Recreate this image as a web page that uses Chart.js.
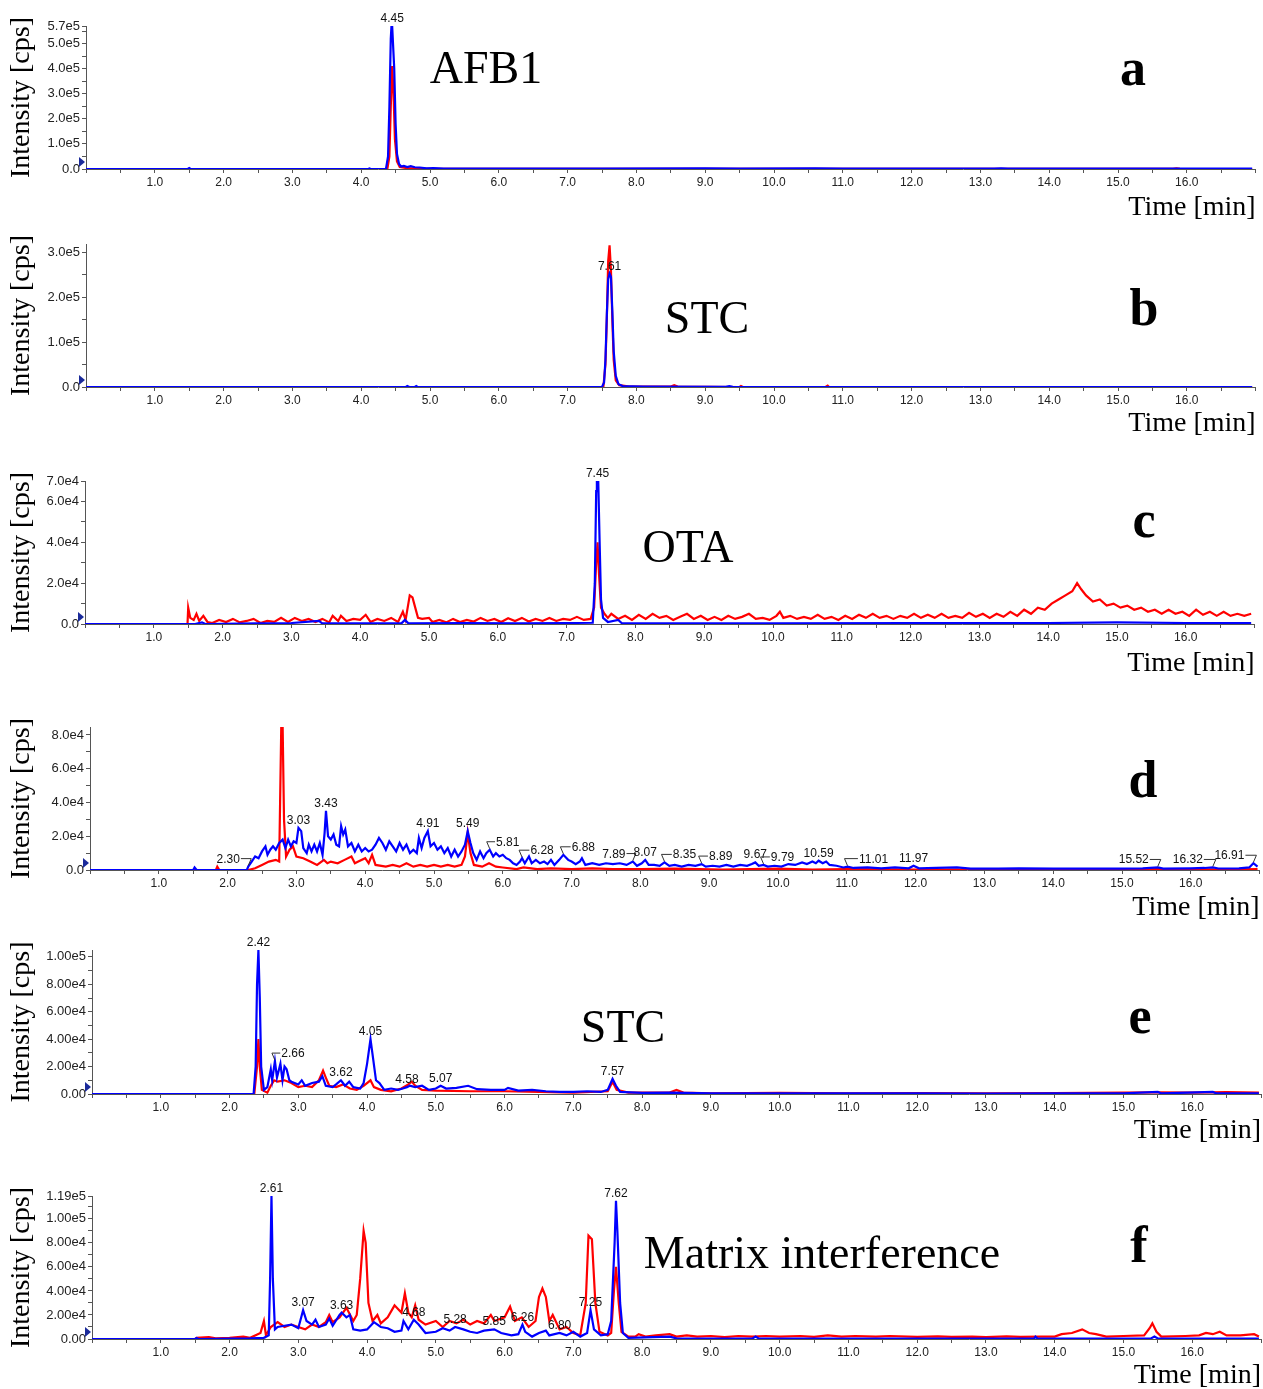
<!DOCTYPE html>
<html>
<head>
<meta charset="utf-8">
<script src="https://cdn.jsdelivr.net/npm/chart.js@4.4.0/dist/chart.umd.min.js"></script>
<style>
  body { margin:0; background:#fff; width:1263px; height:1389px; position:relative; overflow:hidden; }
  canvas { position:absolute; left:0; }
</style>
</head>
<body>
<script>
// --- panel a : AFB1 ---
const aBlue = [[0,0],[1.48,0],[1.5,4e3],[1.52,0],[4.1,0],[4.12,2e3],[4.14,0],[4.36,0],[4.39,5e4],[4.41,2.5e5],[4.43,5.2e5],[4.44,5.7e5],[4.45,5.7e5],[4.46,5.7e5],[4.48,4.0e5],[4.5,1.8e5],[4.52,6e4],[4.55,2e4],[4.58,1e4],[4.62,1.2e4],[4.67,8e3],[4.72,1.1e4],[4.78,7e3],[4.85,6e3],[4.95,3e3],[5.05,4e3],[5.2,2e3],[6,1.5e3],[7.5,1.5e3],[9,3e3],[9.5,1.5e3],[10.6,3e3],[11,1.5e3],[13.2,1.5e3],[13.3,3e3],[13.4,1.5e3],[16.95,1.5e3]];
const aRed = [[0,0],[4.38,0],[4.41,5e4],[4.43,2.5e5],[4.45,4.1e5],[4.47,3e5],[4.49,1.2e5],[4.52,3e4],[4.56,8e3],[4.65,4e3],[5,1e3],[15.8,500],[15.85,3e3],[15.9,500],[16.95,0]];
const aPeaks = [4.45];
const aYVals = [0,1e5,2e5,3e5,4e5,5e5,5.7e5];
const aYText = ['0.0','1.0e5','2.0e5','3.0e5','4.0e5','5.0e5','5.7e5'];

// --- panel b : STC ---
const bBlue = [[0,0],[4.65,0],[4.67,2e3],[4.7,0],[4.78,0],[4.8,2e3],[4.82,0],[7.5,0],[7.53,1e4],[7.55,6e4],[7.57,1.6e5],[7.59,2.4e5],[7.61,2.52e5],[7.63,2.45e5],[7.65,1.7e5],[7.67,8e4],[7.7,2.5e4],[7.74,6e3],[7.8,2e3],[8.1,1e3],[9.3,500],[9.35,2e3],[9.4,500],[16.95,0]];
const bRed = [[0,0],[7.52,0],[7.55,5e4],[7.57,1.5e5],[7.59,2.8e5],[7.61,3.15e5],[7.63,2.6e5],[7.65,1.5e5],[7.67,6e4],[7.7,1.5e4],[7.75,4e3],[7.9,1e3],[8.5,1e3],[8.55,4e3],[8.6,1e3],[9.5,0],[9.52,2e3],[9.55,0],[10.75,0],[10.78,3e3],[10.8,0],[16.95,0]];
const bPeaks = [7.61];
const bYVals = [0,1e5,2e5,3e5];
const bYText = ['0.0','1.0e5','2.0e5','3.0e5'];

// --- panel c : OTA ---
const cBlue = [[0,0],[1.6,0],[1.7,800],[1.75,0],[2.5,300],[3,500],[3.4,1.5e3],[3.45,300],[4.6,300],[4.65,2e3],[4.7,300],[5.5,500],[6.3,300],[7.0,500],[7.38,600],[7.41,2e4],[7.43,6.5e4],[7.44,7e4],[7.45,7e4],[7.46,7e4],[7.48,4e4],[7.5,1.2e4],[7.53,3e3],[7.6,1e3],[7.75,2e3],[7.8,500],[8.5,300],[10,300],[12,400],[14,500],[15,800],[16,500],[16.95,500]];
const cRed = [[0,0],[1.49,0],[1.5,8e3],[1.53,3e3],[1.58,2e3],[1.62,5e3],[1.66,1.5e3],[1.72,4e3],[1.78,1e3],[1.85,500],[1.95,2e3],[2.05,1e3],[2.15,2.5e3],[2.25,800],[2.35,1.5e3],[2.45,2.5e3],[2.55,500],[2.65,1.5e3],[2.75,1e3],[2.85,3e3],[2.95,1e3],[3.05,3e3],[3.15,1.5e3],[3.25,2.5e3],[3.35,1e3],[3.45,2.5e3],[3.55,800],[3.6,4e3],[3.68,1.5e3],[3.72,4e3],[3.8,1.5e3],[3.9,2.5e3],[4.0,2e3],[4.08,4.5e3],[4.15,1e3],[4.25,2.5e3],[4.35,1.5e3],[4.45,3e3],[4.55,1e3],[4.62,6e3],[4.66,2e3],[4.72,1.4e4],[4.76,1.3e4],[4.8,8e3],[4.84,3e3],[4.9,2.5e3],[5.0,3e3],[5.05,1e3],[5.15,2e3],[5.25,800],[5.35,2.5e3],[5.45,1e3],[5.55,2e3],[5.65,1.2e3],[5.75,3e3],[5.85,1.5e3],[5.95,2.5e3],[6.05,1e3],[6.15,2.8e3],[6.25,1.5e3],[6.35,3e3],[6.45,1.2e3],[6.55,2.5e3],[6.65,1.5e3],[6.75,3e3],[6.85,1.5e3],[6.95,2.5e3],[7.05,2e3],[7.15,3.5e3],[7.25,2e3],[7.35,2.5e3],[7.4,8e3],[7.43,3e4],[7.45,4.0e4],[7.47,2.5e4],[7.5,8e3],[7.55,5e3],[7.6,3e3],[7.65,5e3],[7.75,2.5e3],[7.85,4e3],[7.95,2e3],[8.05,4.5e3],[8.15,2.5e3],[8.25,5e3],[8.35,3e3],[8.45,4e3],[8.55,2e3],[8.65,3.5e3],[8.75,5e3],[8.85,2.5e3],[8.95,4e3],[9.05,2e3],[9.15,3.5e3],[9.25,2e3],[9.35,4e3],[9.45,2.5e3],[9.55,3.5e3],[9.65,5e3],[9.75,2.5e3],[9.85,3e3],[9.95,2e3],[10.05,4e3],[10.1,6e3],[10.15,3e3],[10.25,4e3],[10.35,2.5e3],[10.45,3.5e3],[10.55,2.5e3],[10.65,4.5e3],[10.75,2.5e3],[10.85,3.5e3],[10.95,2e3],[11.05,4e3],[11.15,2.5e3],[11.25,4.5e3],[11.35,3e3],[11.45,5e3],[11.55,3e3],[11.65,4e3],[11.75,2.5e3],[11.85,4e3],[11.95,3e3],[12.05,5e3],[12.15,3e3],[12.25,4.5e3],[12.35,3e3],[12.45,5e3],[12.55,3e3],[12.65,4e3],[12.75,3e3],[12.85,5.5e3],[12.95,3.5e3],[13.05,5e3],[13.15,3e3],[13.25,5e3],[13.35,3.5e3],[13.45,6e3],[13.55,4e3],[13.65,7e3],[13.75,5e3],[13.85,8e3],[13.95,7e3],[14.05,1e4],[14.15,1.2e4],[14.25,1.4e4],[14.35,1.6e4],[14.42,2e4],[14.48,1.7e4],[14.55,1.4e4],[14.65,1.1e4],[14.75,1.2e4],[14.85,9e3],[14.95,1e4],[15.05,8e3],[15.15,9e3],[15.25,7e3],[15.35,8e3],[15.45,6e3],[15.55,7e3],[15.65,5e3],[15.75,7e3],[15.85,5e3],[15.95,6e3],[16.05,4e3],[16.15,7e3],[16.25,4.5e3],[16.35,6e3],[16.45,4e3],[16.55,6e3],[16.65,4e3],[16.75,5e3],[16.85,4e3],[16.95,5e3]];
const cPeaks = [7.45];
const cYVals = [0,2e4,4e4,6e4,7e4];
const cYText = ['0.0','2.0e4','4.0e4','6.0e4','7.0e4'];

// --- panel d ---
const dBlue = [[0,0],[1.5,0],[1.52,1.5e3],[1.55,0],[2.28,0],[2.30,2e3],[2.35,5e3],[2.4,8e3],[2.45,7e3],[2.5,1.1e4],[2.55,1.4e4],[2.58,9e3],[2.62,1.2e4],[2.66,1.4e4],[2.7,1.2e4],[2.75,1.6e4],[2.8,1.8e4],[2.84,1.3e4],[2.88,1.8e4],[2.92,1.4e4],[2.96,1.7e4],[3.0,1.6e4],[3.03,2.5e4],[3.07,2.3e4],[3.1,1.3e4],[3.15,1e4],[3.18,1.5e4],[3.22,1.1e4],[3.26,1.5e4],[3.3,1.1e4],[3.34,1.6e4],[3.38,9e3],[3.41,2.2e4],[3.43,3.5e4],[3.46,2e4],[3.5,1.8e4],[3.54,2.1e4],[3.58,1.5e4],[3.62,1.4e4],[3.65,2.6e4],[3.68,2.1e4],[3.71,2.4e4],[3.75,1.4e4],[3.8,1.6e4],[3.85,1.1e4],[3.9,1.5e4],[3.95,1.1e4],[4.0,1.3e4],[4.05,1.1e4],[4.1,1.2e4],[4.15,1.5e4],[4.2,1.9e4],[4.25,1.6e4],[4.3,1.2e4],[4.35,1.7e4],[4.4,1.4e4],[4.45,1.1e4],[4.5,1.6e4],[4.55,1.2e4],[4.6,1.5e4],[4.65,1e4],[4.7,1.2e4],[4.75,1e4],[4.78,1.9e4],[4.82,1.3e4],[4.86,1.9e4],[4.91,2.3e4],[4.95,1.4e4],[5.0,1.6e4],[5.05,1.2e4],[5.1,1.4e4],[5.15,1e4],[5.2,1.3e4],[5.25,8e3],[5.3,1.2e4],[5.35,8e3],[5.4,1.1e4],[5.45,1.5e4],[5.49,2.3e4],[5.53,1.6e4],[5.57,1e4],[5.62,6e3],[5.67,1.1e4],[5.72,7e3],[5.76,1e4],[5.81,1.2e4],[5.86,8e3],[5.9,1e4],[5.95,8e3],[6.0,9e3],[6.05,7e3],[6.1,6e3],[6.15,4e3],[6.2,3e3],[6.25,5e3],[6.28,7e3],[6.32,4e3],[6.38,8e3],[6.42,4e3],[6.48,6e3],[6.54,4e3],[6.6,5e3],[6.65,3.5e3],[6.7,6e3],[6.75,3e3],[6.82,6e3],[6.88,9e3],[6.95,6e3],[7.0,5e3],[7.06,3.5e3],[7.12,5e3],[7.15,7e3],[7.2,3e3],[7.3,4e3],[7.4,3e3],[7.5,4e3],[7.6,3.5e3],[7.7,4e3],[7.8,3e3],[7.89,5e3],[7.95,2.5e3],[8.02,4e3],[8.07,6e3],[8.12,3e3],[8.2,3e3],[8.28,2.5e3],[8.35,4.5e3],[8.42,2.5e3],[8.5,3e3],[8.6,2e3],[8.7,3e3],[8.8,2.5e3],[8.89,3.5e3],[8.95,2e3],[9.05,2.5e3],[9.15,2e3],[9.25,3e3],[9.35,2e3],[9.45,3e3],[9.55,2.5e3],[9.62,3.5e3],[9.67,4.5e3],[9.72,2.5e3],[9.79,3e3],[9.85,2e3],[9.95,2.5e3],[10.05,2e3],[10.15,3.5e3],[10.25,3e3],[10.35,4.5e3],[10.42,3.5e3],[10.5,5e3],[10.55,4e3],[10.59,5.5e3],[10.65,4e3],[10.7,5e3],[10.75,3e3],[10.85,2.5e3],[10.95,1.5e3],[11.01,2e3],[11.1,1.2e3],[11.3,1.5e3],[11.5,1e3],[11.7,1.5e3],[11.9,1e3],[11.97,2.5e3],[12.05,1e3],[12.3,1.2e3],[12.6,1.5e3],[12.8,800],[13.2,800],[13.5,1e3],[14.0,800],[14.5,800],[15.0,800],[15.3,1e3],[15.52,1.5e3],[15.6,800],[16.0,1e3],[16.2,1.2e3],[16.32,1.5e3],[16.4,900],[16.7,1e3],[16.85,1.5e3],[16.91,4e3],[16.97,2e3]];
const dRed = [[0,0],[1.83,0],[1.85,2e3],[1.88,0],[2.3,0],[2.4,1e3],[2.5,3e3],[2.6,5e3],[2.7,6e3],[2.75,5e3],[2.78,8.5e4],[2.8,8.5e4],[2.82,3e4],[2.85,8e3],[2.9,1.2e4],[2.95,1.4e4],[3.0,8e3],[3.1,7e3],[3.2,5e3],[3.3,3e3],[3.4,6e3],[3.45,4e3],[3.5,5e3],[3.6,4e3],[3.7,6e3],[3.8,8e3],[3.85,4e3],[3.9,5e3],[4.0,7e3],[4.05,4e3],[4.1,9e3],[4.15,3e3],[4.3,2e3],[4.4,3e3],[4.5,2e3],[4.6,4e3],[4.7,2e3],[4.8,3e3],[4.9,2e3],[5.0,3e3],[5.1,2e3],[5.2,3e3],[5.3,2e3],[5.4,3e3],[5.45,8e3],[5.49,2.2e4],[5.53,1e4],[5.58,3e3],[5.7,2e3],[5.8,4e3],[5.9,2e3],[6.0,1.5e3],[6.2,500],[6.3,1.5e3],[6.5,500],[6.7,1e3],[7.0,500],[7.3,1e3],[7.6,500],[8,500],[8.5,800],[9.2,300],[10.0,800],[10.5,300],[11,500],[12,300],[14,300],[15.5,500],[16.5,200],[16.97,600]];
const dPeaks = [2.30,3.03,3.43,4.91,5.49,5.81,6.28,6.88,7.89,8.07,8.35,8.89,9.67,9.79,10.59,11.01,11.97,15.52,16.32,16.91];
const dYVals = [0,2e4,4e4,6e4,8e4];
const dYText = ['0.0','2.0e4','4.0e4','6.0e4','8.0e4'];

// --- panel e : STC in sample ---
const eBlue = [[0,0],[2.35,0],[2.38,2e4],[2.4,8e4],[2.42,1.05e5],[2.44,7e4],[2.46,2e4],[2.5,3e3],[2.55,5e3],[2.6,1.8e4],[2.62,1e4],[2.66,2.4e4],[2.69,1.2e4],[2.74,2.2e4],[2.77,1e4],[2.8,2e4],[2.83,1.8e4],[2.87,1e4],[2.9,9e3],[3.0,7e3],[3.05,1e4],[3.1,6e3],[3.2,8e3],[3.3,9e3],[3.35,1.3e4],[3.4,6e3],[3.5,5e3],[3.55,7e3],[3.62,1e4],[3.68,6e3],[3.74,9e3],[3.8,5e3],[3.9,4e3],[3.95,8e3],[4.0,2.2e4],[4.05,4.0e4],[4.09,2.5e4],[4.13,1e4],[4.18,8e3],[4.25,3e3],[4.35,4e3],[4.45,3e3],[4.52,4e3],[4.58,5e3],[4.62,6e3],[4.7,5e3],[4.8,6e3],[4.9,3e3],[5.0,4e3],[5.07,6e3],[5.15,4e3],[5.3,4.5e3],[5.47,6e3],[5.6,3.5e3],[5.8,3e3],[6.0,3e3],[6.05,4.5e3],[6.2,2.5e3],[6.4,3e3],[6.6,2e3],[6.8,1.5e3],[7.0,1.5e3],[7.2,2e3],[7.4,1.5e3],[7.5,3e3],[7.57,1.1e4],[7.62,6e3],[7.68,1.5e3],[8.0,800],[8.4,1e3],[9,500],[10,400],[11,500],[12,400],[13,300],[14,400],[15,500],[15.5,1.5e3],[15.55,400],[16.3,1.5e3],[16.35,400],[16.97,400]];
const eRed = [[0,0],[2.36,0],[2.4,2e4],[2.42,4.0e4],[2.44,2e4],[2.47,3e3],[2.55,1e3],[2.6,6e3],[2.65,1e4],[2.7,9e3],[2.8,1e4],[2.9,8e3],[3.0,5e3],[3.1,6e3],[3.2,5e3],[3.3,1e4],[3.36,1.7e4],[3.4,1.2e4],[3.45,6e3],[3.55,5e3],[3.65,7e3],[3.75,4e3],[3.85,3e3],[3.95,6e3],[4.05,1e4],[4.1,5e3],[4.2,3e3],[4.35,2e3],[4.5,4e3],[4.6,7e3],[4.65,9e3],[4.7,6e3],[4.8,3e3],[5.0,2.5e3],[5.5,2e3],[6,2e3],[6.5,1.5e3],[7,1e3],[7.5,2e3],[7.57,9e3],[7.63,3e3],[7.8,1e3],[8.4,1e3],[8.5,3e3],[8.6,1e3],[9,500],[10,800],[11,500],[12,700],[13,500],[14,600],[15,1e3],[15.5,1.2e3],[16,1e3],[16.5,1.3e3],[16.97,1e3]];
const ePeaks = [2.42,2.66,3.62,4.05,4.58,5.07,7.57];
const eYVals = [0,2e4,4e4,6e4,8e4,1e5];
const eYText = ['0.00','2.00e4','4.00e4','6.00e4','8.00e4','1.00e5'];

// --- panel f : matrix interference ---
const fBlue = [[0,0],[1.5,0],[1.52,800],[1.55,0],[2.3,500],[2.5,1e3],[2.57,3e3],[2.59,5e4],[2.61,1.19e5],[2.63,5e4],[2.66,8e3],[2.7,1e4],[2.8,1.1e4],[2.9,1.2e4],[3.0,9e3],[3.07,2.4e4],[3.12,1.5e4],[3.2,1.2e4],[3.25,1.6e4],[3.3,1e4],[3.4,1.2e4],[3.45,1.7e4],[3.5,1.1e4],[3.6,2e4],[3.63,2.2e4],[3.7,1.8e4],[3.75,2e4],[3.8,8e3],[3.9,7e3],[4.0,8e3],[4.1,1.4e4],[4.2,1e4],[4.3,9e3],[4.4,6e3],[4.5,7e3],[4.53,1.5e4],[4.6,8e3],[4.68,1.6e4],[4.75,1.2e4],[4.85,5e3],[5.0,6e3],[5.1,9e3],[5.2,7e3],[5.28,1e4],[5.4,8e3],[5.5,6e3],[5.6,5e3],[5.7,7e3],[5.85,8e3],[5.95,5e3],[6.1,3e3],[6.2,4e3],[6.26,1.2e4],[6.3,6e3],[6.4,2e3],[6.5,5e3],[6.6,7e3],[6.65,3e3],[6.8,5e3],[6.9,3e3],[7.0,6e3],[7.1,2e3],[7.2,5e3],[7.25,2.4e4],[7.3,8e3],[7.4,3e3],[7.5,4e3],[7.55,1.5e4],[7.6,8e4],[7.62,1.15e5],[7.64,9e4],[7.68,3e4],[7.72,5e3],[7.8,1e3],[8.4,2e3],[8.5,500],[9,300],[9.6,300],[9.65,2e3],[9.7,300],[11,300],[13.7,300],[13.72,2e3],[13.75,300],[15.4,500],[15.45,2e3],[15.5,500],[16.97,300]];
const fRed = [[0,0],[1.5,0],[1.52,1e3],[1.7,1.5e3],[1.8,500],[2.0,1e3],[2.2,2e3],[2.3,1e3],[2.45,5e3],[2.5,1.5e4],[2.53,3e3],[2.6,1e4],[2.7,1.4e4],[2.8,1e4],[2.9,1.2e4],[3.0,1e4],[3.1,8e3],[3.2,1.2e4],[3.3,1e4],[3.4,1.4e4],[3.45,2e4],[3.5,1.4e4],[3.6,1.8e4],[3.7,2.6e4],[3.8,1.5e4],[3.85,2e4],[3.9,5e4],[3.95,9e4],[3.98,8e4],[4.02,3e4],[4.08,1.5e4],[4.15,2e4],[4.2,1.3e4],[4.3,1.8e4],[4.4,2.8e4],[4.45,2.5e4],[4.5,2.2e4],[4.55,3.8e4],[4.6,2.2e4],[4.65,1.8e4],[4.7,2.8e4],[4.75,1.6e4],[4.85,1.2e4],[5.0,1.5e4],[5.1,1e4],[5.2,1.5e4],[5.3,1.3e4],[5.4,1.6e4],[5.5,1.2e4],[5.6,1.5e4],[5.7,1.3e4],[5.8,2e4],[5.85,1.5e4],[6.0,1.8e4],[6.08,2.7e4],[6.15,1.5e4],[6.25,1.8e4],[6.35,1e4],[6.45,1.5e4],[6.5,3.5e4],[6.55,4.2e4],[6.6,3.5e4],[6.65,1.5e4],[6.7,2e4],[6.8,8e3],[6.9,1e4],[7.0,5e3],[7.1,3e3],[7.18,3e4],[7.22,8.6e4],[7.27,8.3e4],[7.32,3e4],[7.38,6e3],[7.5,3e3],[7.55,5e3],[7.59,4e4],[7.62,6e4],[7.66,3e4],[7.7,6e3],[7.8,2e3],[7.9,2e3],[7.95,4e3],[8.05,2e3],[8.2,3e3],[8.4,4e3],[8.5,2e3],[8.65,3e3],[8.8,2e3],[9.0,2.5e3],[9.2,1.5e3],[9.4,2.5e3],[9.6,2e3],[9.8,2.5e3],[10,2e3],[10.3,2.5e3],[10.5,1.8e3],[10.7,3e3],[10.9,2e3],[11.1,2.5e3],[11.4,2e3],[11.6,2.5e3],[12,1.8e3],[12.3,2.2e3],[12.5,1.8e3],[12.8,2e3],[13,1.5e3],[13.3,2.2e3],[13.5,1.8e3],[13.8,2e3],[14,2e3],[14.1,4e3],[14.25,5e3],[14.4,8e3],[14.5,5e3],[14.6,4e3],[14.75,2e3],[15,2.5e3],[15.3,3e3],[15.38,9e3],[15.42,1.3e4],[15.48,6e3],[15.55,2e3],[15.9,2.5e3],[16.1,3e3],[16.2,5e3],[16.3,4e3],[16.4,6e3],[16.5,3e3],[16.7,3e3],[16.9,4e3],[16.97,2e3]];
const fPeaks = [2.61,3.07,3.63,4.68,5.28,5.85,6.26,6.80,7.25,7.62];
const fYVals = [0,2e4,4e4,6e4,8e4,1e5,1.19e5];
const fYText = ['0.00','2.00e4','4.00e4','6.00e4','8.00e4','1.00e5','1.19e5'];

const X_MAX = 17;
const PX_PER_MIN = 68.8;

// page layout of each panel
const panels = [
  {top:0, h:227, left:86, cTop:26, cBot:169, timeY:207, blue:aBlue, red:aRed, peaks:aPeaks, yMax:5.7e5, yStep:0.5e5, yVals:aYVals, yText:aYText,
   name:'AFB1', nameX:486, nameY:83, letter:'a', letterX:1133, letterY:85, leaders:{}},
  {top:225, h:218, left:86, cTop:244, cBot:387, timeY:423, blue:bBlue, red:bRed, peaks:bPeaks, yMax:3.18e5, yStep:0.5e5, yVals:bYVals, yText:bYText,
   name:'STC', nameX:707, nameY:333, letter:'b', letterX:1144, letterY:325, leaders:{}},
  {top:440, h:243, left:85, cTop:481, cBot:624, timeY:663, blue:cBlue, red:cRed, peaks:cPeaks, yMax:7e4, yStep:1e4, yVals:cYVals, yText:cYText,
   name:'OTA', nameX:688, nameY:562, letter:'c', letterX:1144, letterY:537, leaders:{}},
  {top:675, h:252, left:90, cTop:727, cBot:870, timeY:907, blue:dBlue, red:dRed, peaks:dPeaks, yMax:8.47e4, yStep:1e4, yVals:dYVals, yText:dYText,
   name:'', letter:'d', letterX:1143, letterY:797,
   leaders:{'2.30':-20,'5.81':18,'6.28':20,'6.88':20,'7.89':-19,'8.35':20,'8.89':19,'9.79':19,'11.01':26,'15.52':-24,'16.32':-25,'16.91':-24}},
  {top:920, h:230, left:92, cTop:950, cBot:1094, timeY:1130, blue:eBlue, red:eRed, peaks:ePeaks, yMax:1.05e5, yStep:1e4, yVals:eYVals, yText:eYText,
   name:'STC', nameX:623, nameY:1042, letter:'e', letterX:1140, letterY:1033, leaders:{'2.66':18}},
  {top:1145, h:250, left:92, cTop:1196, cBot:1339, timeY:1375, blue:fBlue, red:fRed, peaks:fPeaks, yMax:1.19e5, yStep:1e4, yVals:fYVals, yText:fYText,
   name:'Matrix interference', nameX:822, nameY:1268, letter:'f', letterX:1139, letterY:1262, leaders:{}}
];

const SANS = '"Liberation Sans", Arial, sans-serif';
const SERIF = '"Liberation Serif", "Times New Roman", serif';

function toXY(arr){ return arr.map(p => ({x:p[0], y:p[1]})); }

// reads the series at time t (straight line between stored points)
function valueAt(arr, t){
  for (let i = 1; i < arr.length; i++){
    if (arr[i][0] >= t){
      const [x0,y0] = arr[i-1], [x1,y1] = arr[i];
      if (x1 === x0) return y1;
      return y0 + (y1-y0)*(t-x0)/(x1-x0);
    }
  }
  return arr[arr.length-1][1];
}

function overlay(p){
  return {
    id:'overlay',
    afterDatasetsDraw(chart){
      const ctx = chart.ctx, xs = chart.scales.x, ys = chart.scales.y;
      ctx.save();
      // peak labels
      ctx.font = '12px ' + SANS;
      ctx.fillStyle = '#111';
      ctx.strokeStyle = '#333';
      ctx.lineWidth = 1;
      ctx.textAlign = 'center';
      ctx.textBaseline = 'alphabetic';
      p.peaks.forEach(t => {
        const txt = t.toFixed(2);
        const x = xs.getPixelForValue(t);
        const y = ys.getPixelForValue(Math.min(valueAt(p.blue, t), p.yMax));
        const dx = p.leaders[txt] || 0;
        ctx.fillText(txt, x + dx, y - 4);
        if (dx){
          const w = ctx.measureText(txt).width;
          const ex = x + dx - Math.sign(dx)*(w/2 + 1);
          ctx.beginPath();
          ctx.moveTo(ex, y - 8);
          ctx.lineTo(x - Math.sign(dx)*3, y - 8);
          ctx.lineTo(x, y - 1);
          ctx.stroke();
        }
      });
      // baseline marker at the y axis
      const y0 = ys.getPixelForValue(0);
      const lx = chart.chartArea.left;
      ctx.fillStyle = '#1a2a9a';
      ctx.beginPath();
      ctx.moveTo(lx - 7, y0 - 12);
      ctx.lineTo(lx - 1, y0 - 7);
      ctx.lineTo(lx - 7, y0 - 2);
      ctx.closePath();
      ctx.fill();
      // compound name and panel letter
      ctx.fillStyle = '#000';
      if (p.name){
        ctx.font = '46px ' + SERIF;
        ctx.fillText(p.name, p.nameX, p.nameY - p.top);
      }
      ctx.font = 'bold 52px ' + SERIF;
      ctx.fillText(p.letter, p.letterX, p.letterY - p.top);
      ctx.restore();
    }
  };
}

const xTickVals = [];
for (let i = 0; i <= X_MAX*2; i++) xTickVals.push(i/2);

panels.forEach(p => {
  const cv = document.createElement('canvas');
  cv.width = 1263; cv.height = p.h;
  cv.style.top = p.top + 'px';
  document.body.appendChild(cv);
  const right = p.left + X_MAX*PX_PER_MIN;

  new Chart(cv, {
    type:'line',
    data:{datasets:[
      {data:toXY(p.blue), borderColor:'#0000ff', borderWidth:2.2, pointRadius:0, tension:0},
      {data:toXY(p.red), borderColor:'#ff0000', borderWidth:2.2, pointRadius:0, tension:0}
    ]},
    options:{
      responsive:false, animation:false, events:[],
      layout:{padding:{top:p.cTop - p.top, right:1263 - right, left:0, bottom:0}},
      plugins:{legend:{display:false}, tooltip:{enabled:false}},
      scales:{
        x:{
          type:'linear', min:0, max:X_MAX,
          afterFit(s){ s.height = p.h - (p.cBot - p.top); },
          afterBuildTicks(s){ s.ticks = xTickVals.map(v => ({value:v})); },
          ticks:{autoSkip:false, maxRotation:0, padding:2, color:'#222', font:{family:SANS, size:12},
            callback:(v) => (Math.abs(v - Math.round(v)) < 1e-6 && v >= 1 && v <= 16) ? v.toFixed(1) : ''},
          grid:{drawOnChartArea:false, tickLength:4, color:'#555'},
          border:{color:'#555', width:1},
          title:{display:true, text:'Time [min]', align:'end', color:'#000',
            font:{family:SERIF, size:28, lineHeight:1.2}, padding:{top:0, bottom:3}}
        },
        y:{
          min:0, max:p.yMax,
          afterFit(s){ s.width = p.left; },
          afterBuildTicks(s){
            const vals = [];
            for (let i = 0; i*p.yStep <= p.yMax + 1; i++) vals.push(i*p.yStep);
            p.yVals.forEach(v => { if (!vals.some(u => Math.abs(u - v) < 1)) vals.push(v); });
            vals.sort((a,b) => a - b);
            s.ticks = vals.map(v => ({value:v}));
          },
          ticks:{autoSkip:false, padding:2, color:'#222', font:{family:SANS, size:13},
            callback:(v) => { const i = p.yVals.findIndex(u => Math.abs(u - v) < 1); return i >= 0 ? p.yText[i] : ''; }},
          grid:{drawOnChartArea:false, tickLength:4, color:'#555'},
          border:{color:'#555', width:1},
          title:{display:true, text:'Intensity [cps]', color:'#000',
            font:{family:SERIF, size:28, lineHeight:1.2}, padding:{top:5, bottom:0}}
        }
      }
    },
    plugins:[overlay(p)]
  });
});
</script>
</body>
</html>
